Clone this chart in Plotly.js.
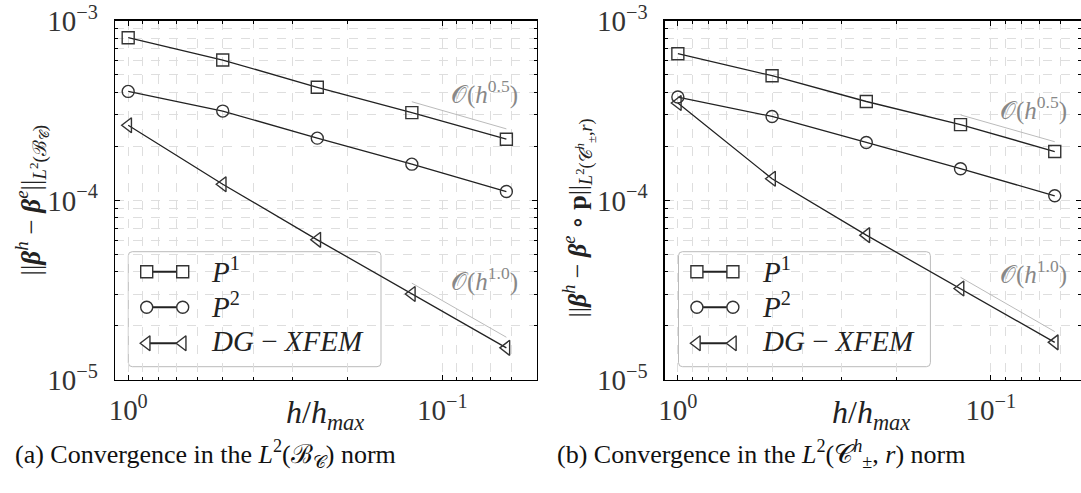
<!DOCTYPE html>
<html>
<head>
<meta charset="utf-8">
<script src="https://cdn.plot.ly/plotly-3.0.1.min.js"></script>
<style>html,body{margin:0;padding:0;background:#fff;overflow:hidden}#plot{width:1081px;height:493px}</style>
</head>
<body>
<div id="plot"></div>
<script>
// ---- data ----
const hRatio = [1, 0.5, 0.25, 0.125, 0.0625];
const p1A = [8.04e-4, 6.04e-4, 4.26e-4, 3.08e-4, 2.19e-4];
const p2A = [4.04e-4, 3.14e-4, 2.22e-4, 1.59e-4, 1.12e-4];
const dgA = [2.62e-4, 1.23e-4, 6.03e-5, 3.01e-5, 1.51e-5];
const p1B = [6.55e-4, 4.94e-4, 3.55e-4, 2.64e-4, 1.87e-4];
const p2B = [3.76e-4, 2.93e-4, 2.10e-4, 1.50e-4, 1.06e-4];
const dgB = [3.48e-4, 1.32e-4, 6.40e-5, 3.23e-5, 1.62e-5];
const slopeX = [0.125, 0.0625];
const slope05A = [3.54e-4, 2.50e-4];
const slope10A = [3.46e-5, 1.73e-5];
const slope05B = [2.99e-4, 2.12e-4];
const slope10B = [3.73e-5, 1.86e-5];
const seriesNames = ['<i>P</i><sup>1</sup>', '<i>P</i><sup>2</sup>', '<i>DG</i> − <i>XFEM</i>'];
const seriesSymbols = ['square', 'circle', 'triangle-left'];
const yTickVals = [1e-5, 1e-4, 1e-3];
const yTickText = ['10<sup>−5</sup>', '10<sup>−4</sup>', '10<sup>−3</sup>'];
const xTickVals = [1, 0.1];
const xTickText = ['10<sup>0</sup>', '10<sup>−1</sup>'];
const slopeLabels = ['𝒪(<i>h</i><sup>0.5</sup>)', '𝒪(<i>h</i><sup>1.0</sup>)'];
const captions = ['(a) Convergence in the <i>L</i><sup>2</sup>(ℬ<sub>𝒞</sub>) norm',
                  '(b) Convergence in the <i>L</i><sup>2</sup>(𝒞<sup><i>h</i></sup><sub>±</sub>, <i>r</i>) norm'];
const yTitles = ['||<b><i>β</i></b><sup><i>h</i></sup> − <b><i>β</i></b><sup><i>e</i></sup>||<sub><i>L</i><sup>2</sup>(ℬ<sub>𝒞</sub>)</sub>',
                 '||<b><i>β</i></b><sup><i>h</i></sup> − <b><i>β</i></b><sup><i>e</i></sup> ∘ <b>p</b>||<sub><i>L</i><sup>2</sup>(𝒞<sup><i>h</i></sup><sub>±</sub>,<i>r</i>)</sub>'];
const xTitle = '<i>h</i>/<i>h</i><sub><i>max</i></sub>';

// ---- geometry helpers ----
const W = 1081, H = 493;
const FONT = '"Liberation Serif", "DejaVu Serif", serif';
const px = v => v / W;
const py = v => 1 - v / H;
const lineCol = '#222';
const gridCol = '#dedede';

const minorVals = [];
for (let e = -6; e <= 1; e++) for (let m = 2; m <= 9; m++) minorVals.push(m * Math.pow(10, e));

function xAxis(domain, range) {
  return {
    type: 'log', domain: domain, range: range, autorange: false,
    tickmode: 'array', tickvals: xTickVals, ticktext: xTickText,
    ticks: 'inside', ticklen: 5, tickwidth: 1, tickcolor: '#000',
    showline: true, linecolor: '#000', linewidth: 1.3, mirror: 'ticks',
    showgrid: true, gridcolor: gridCol, griddash: 'dash', gridwidth: 1,
    minor: {tickmode: 'array', tickvals: minorVals, ticks: 'inside', ticklen: 3, tickcolor: '#000',
            showgrid: true, gridcolor: gridCol, griddash: 'dash', gridwidth: 1},
    tickfont: {family: FONT, size: 29, color: '#333'},
    ticklabelstandoff: 4, ticklabeloverflow: 'allow',
    zeroline: false, fixedrange: true
  };
}
function yAxis(anchor) {
  return {
    type: 'log', domain: [py(380), py(20.7)], range: [-5, -3], autorange: false, anchor: anchor,
    tickmode: 'array', tickvals: yTickVals, ticktext: yTickText,
    ticks: 'inside', ticklen: 5, tickwidth: 1, tickcolor: '#000',
    showline: true, linecolor: '#000', linewidth: 1.3, mirror: 'ticks',
    showgrid: true, gridcolor: gridCol, griddash: 'dash', gridwidth: 1,
    minor: {tickmode: 'array', tickvals: minorVals, ticks: 'inside', ticklen: 3, tickcolor: '#000',
            showgrid: true, gridcolor: gridCol, griddash: 'dash', gridwidth: 1},
    tickfont: {family: FONT, size: 29, color: '#333'},
    ticklabelstandoff: 10, ticklabeloverflow: 'allow',
    zeroline: false, fixedrange: true
  };
}

const traces = [];
function addPanel(xa, ya, p1, p2, dg, s05, s10) {
  traces.push({x: slopeX, y: s05, xaxis: xa, yaxis: ya, mode: 'lines', line: {color: '#bbb', width: 1}, showlegend: false, hoverinfo: 'skip'});
  traces.push({x: slopeX, y: s10, xaxis: xa, yaxis: ya, mode: 'lines', line: {color: '#bbb', width: 1}, showlegend: false, hoverinfo: 'skip'});
  [p1, p2, dg].forEach((s, i) => {
    traces.push({x: hRatio, y: s, xaxis: xa, yaxis: ya, mode: 'lines+markers', name: seriesNames[i], showlegend: false,
      line: {color: lineCol, width: 1.3},
      marker: {symbol: seriesSymbols[i], size: i === 2 ? 13 : 12, color: 'rgba(255,255,255,0)',
               line: {color: '#333', width: 1.4}}});
  });
}
addPanel('x', 'y', p1A, p2A, dgA, slope05A, slope10A);
addPanel('x2', 'y2', p1B, p2B, dgB, slope05B, slope10B);

// legend sample glyphs (on overlay axes measured in pixels inside the legend box)
const legRowsY = [95, 59.4, 23.4];
const legendAxes = [['x3', 'y3'], ['x4', 'y4']];
legendAxes.forEach(([xa, ya]) => {
  seriesSymbols.forEach((sym, i) => {
    traces.push({x: [18.4, 54.4], y: [legRowsY[i], legRowsY[i]], xaxis: xa, yaxis: ya, mode: 'lines+markers',
      showlegend: false, hoverinfo: 'skip', line: {color: lineCol, width: 2},
      marker: {symbol: sym, size: i === 2 ? 13 : 12, color: '#fff', line: {color: '#333', width: 1.4}}});
  });
});

function roundRect(x0, y0, x1, y1, r) {
  const X = v => px(v), Y = v => py(v);
  return `M ${X(x0 + r)} ${Y(y0)} L ${X(x1 - r)} ${Y(y0)} Q ${X(x1)} ${Y(y0)} ${X(x1)} ${Y(y0 + r)} ` +
         `L ${X(x1)} ${Y(y1 - r)} Q ${X(x1)} ${Y(y1)} ${X(x1 - r)} ${Y(y1)} L ${X(x0 + r)} ${Y(y1)} ` +
         `Q ${X(x0)} ${Y(y1)} ${X(x0)} ${Y(y1 - r)} L ${X(x0)} ${Y(y0 + r)} Q ${X(x0)} ${Y(y0)} ${X(x0 + r)} ${Y(y0)} Z`;
}
const legBoxes = [[128.3, 251.7, 381, 366.7], [678.5, 251.7, 930.4, 366.7]];
const shapes = legBoxes.map(b => ({type: 'path', xref: 'paper', yref: 'paper', path: roundRect(b[0], b[1], b[2], b[3], 4),
  line: {color: '#bbb', width: 1}, fillcolor: 'rgba(0,0,0,0)', layer: 'below'}));

const annotations = [];
// legend texts
legBoxes.forEach((b, k) => {
  seriesNames.forEach((nm, i) => {
    annotations.push({xref: 'paper', yref: 'paper', x: px(b[0] + 81), y: py(b[1] + 115 - legRowsY[i] - 2),
      xanchor: 'left', yanchor: 'middle', showarrow: false, text: nm, font: {family: FONT, size: 29, color: '#222'}});
  });
});
// slope labels
[['x', 'y', -1.133, -3.402, -4.438], ['x2', 'y2', -1.135, -3.486, -4.404]].forEach(([xa, ya, lx, ly1, ly2]) => {
  annotations.push({xref: xa, yref: ya, x: lx, y: ly1, showarrow: false, text: slopeLabels[0], font: {family: FONT, size: 25, color: '#888'}});
  annotations.push({xref: xa, yref: ya, x: lx, y: ly2, showarrow: false, text: slopeLabels[1], font: {family: FONT, size: 25, color: '#888'}});
});
// axis titles
annotations.push({xref: 'paper', yref: 'paper', x: px(284), y: py(437), xanchor: 'left', showarrow: false, text: xTitle, font: {family: FONT, size: 32, color: '#222'}});
annotations.push({xref: 'paper', yref: 'paper', x: px(830), y: py(437), xanchor: 'left', showarrow: false, text: xTitle, font: {family: FONT, size: 32, color: '#222'}});
annotations.push({xref: 'paper', yref: 'paper', x: px(9), y: py(200), xanchor: 'left', showarrow: false, textangle: -90, text: yTitles[0], font: {family: FONT, size: 27, color: '#222'}});
annotations.push({xref: 'paper', yref: 'paper', x: px(557), y: py(218), xanchor: 'left', showarrow: false, textangle: -90, text: yTitles[1], font: {family: FONT, size: 26, color: '#222'}});
// captions
annotations.push({xref: 'paper', yref: 'paper', x: px(13), y: py(474), xanchor: 'left', showarrow: false, text: captions[0], font: {family: FONT, size: 26, color: '#111'}});
annotations.push({xref: 'paper', yref: 'paper', x: px(555), y: py(474), xanchor: 'left', showarrow: false, text: captions[1], font: {family: FONT, size: 26, color: '#111'}});

const legAxis = (domain, range, anchor) => ({domain: domain, range: range, visible: false, fixedrange: true, anchor: anchor});

const layout = {
  width: W, height: H, margin: {l: 0, r: 0, t: 0, b: 0},
  paper_bgcolor: '#fff', plot_bgcolor: 'rgba(0,0,0,0)', showlegend: false,
  xaxis: Object.assign(xAxis([px(115), px(537)], [0.042, -1.3016]), {anchor: 'y'}),
  yaxis: yAxis('x'),
  xaxis2: Object.assign(xAxis([px(664.7), 1], [0.042, -1.288]), {anchor: 'y2'}),
  yaxis2: yAxis('x2'),
  xaxis3: legAxis([px(128.3), px(381)], [0, 381 - 128.3], 'y3'),
  yaxis3: legAxis([py(366.7), py(251.7)], [0, 115], 'x3'),
  xaxis4: legAxis([px(678.5), px(930.4)], [0, 930.4 - 678.5], 'y4'),
  yaxis4: legAxis([py(366.7), py(251.7)], [0, 115], 'x4'),
  shapes: shapes, annotations: annotations
};
Plotly.newPlot('plot', traces, layout, {displayModeBar: false, staticPlot: true});
</script>
</body>
</html>
